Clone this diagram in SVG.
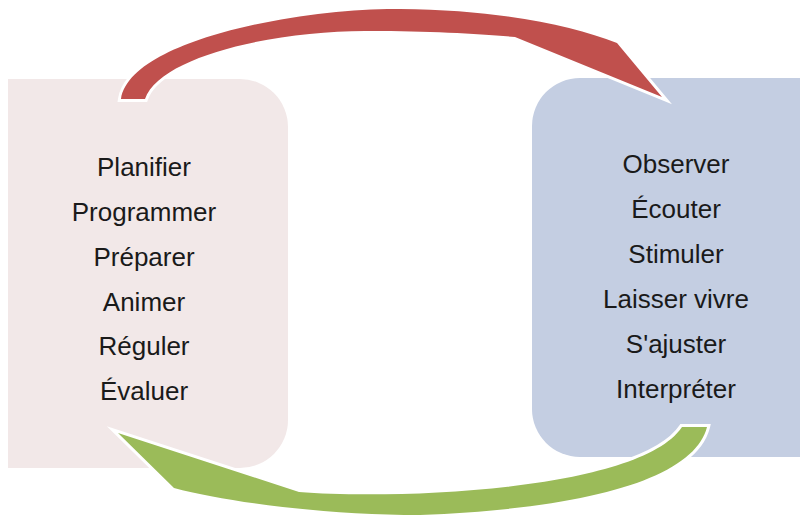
<svg xmlns="http://www.w3.org/2000/svg" width="800" height="517" viewBox="0 0 800 517">
<style>
.lbl{font-family:"Liberation Sans",Arial,sans-serif;font-size:26px;fill:#1a1a1a;text-anchor:middle}
.arrow{stroke:#ffffff;stroke-width:6;stroke-linejoin:miter;stroke-miterlimit:10;paint-order:stroke}
</style>
<rect width="800" height="517" fill="#ffffff"/>
<g id="node-left">
<path d="M8,79 H240 A48,48 0 0 1 288,127 V420 A48,48 0 0 1 240,468 H8 Z" fill="#F2E8E8"/>
<text class="lbl" x="144" y="176">Planifier</text>
<text class="lbl" x="144" y="221">Programmer</text>
<text class="lbl" x="144" y="266">Préparer</text>
<text class="lbl" x="144" y="311">Animer</text>
<text class="lbl" x="144" y="355">Réguler</text>
<text class="lbl" x="144" y="400">Évaluer</text>
</g>
<g id="node-right">
<path d="M580,78 H810 V457 H580 A48,48 0 0 1 532,409 V126 A48,48 0 0 1 580,78 Z" fill="#C4CEE2"/>
<text class="lbl" x="676" y="173">Observer</text>
<text class="lbl" x="676" y="218">Écouter</text>
<text class="lbl" x="676" y="263">Stimuler</text>
<text class="lbl" x="676" y="308">Laisser vivre</text>
<text class="lbl" x="676" y="353">S'ajuster</text>
<text class="lbl" x="676" y="398">Interpréter</text>
</g>
<g id="connectors">
<path class="arrow" fill="#C0504D" d="M121,99 C130,40 300,8 400,9 C500,10 570,25 617,43 L662,97 L515,37 C480,34 430,31 370,31 C280,30 160,55 145,99 Z"/>
<path class="arrow" fill="#9BBB59" d="M707,427 C695,475 600,508 420,515 C330,515 230,503 174,488 L118,433 L299,492 C400,500 640,490 682,427 Z"/>
</g>
</svg>
